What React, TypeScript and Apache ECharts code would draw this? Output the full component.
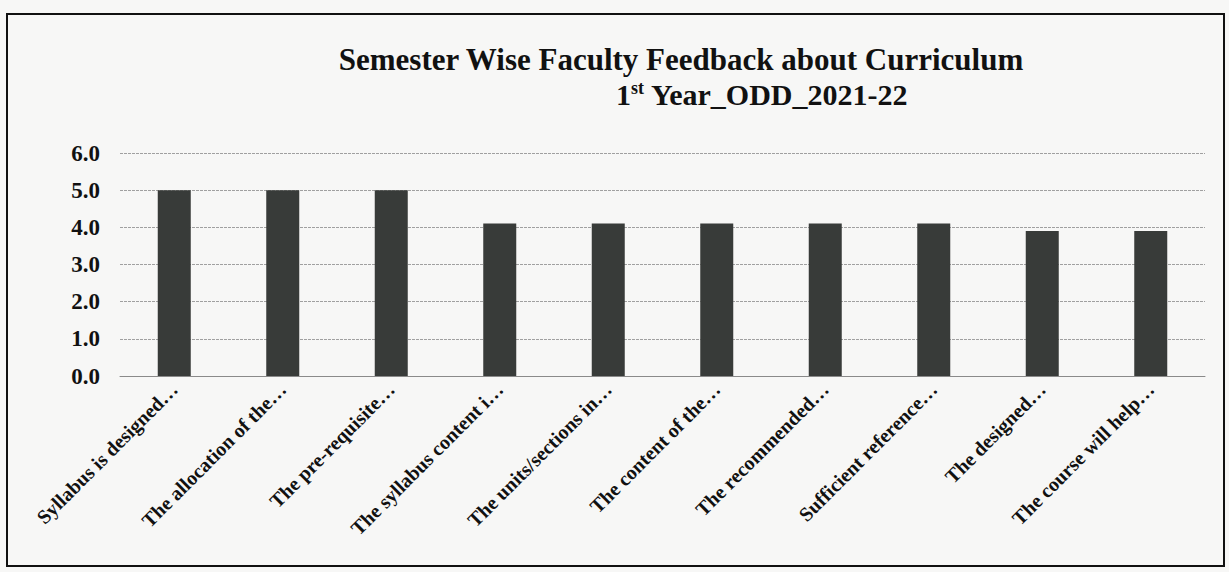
import React, { useEffect, useRef } from "react";
import * as echarts from "echarts";

const categories = [
  "Syllabus is designed…",
  "The allocation of the…",
  "The pre-requisite…",
  "The syllabus content i…",
  "The units/sections in…",
  "The content of the…",
  "The recommended…",
  "Sufficient reference…",
  "The designed…",
  "The course will help…",
];
const values = [5.0, 5.0, 5.0, 4.1, 4.1, 4.1, 4.1, 4.1, 3.9, 3.9];
const titleLine1 = "Semester Wise Faculty Feedback about Curriculum";
const titleLine2Parts = ["1", "st", " Year_ODD_2021-22"];

const FONT = "'Liberation Serif', 'Times New Roman', serif";

export default function App() {
  const ref = useRef<HTMLDivElement>(null);
  useEffect(() => {
    const chart = echarts.init(ref.current!, undefined, { renderer: "svg" });
    chart.setOption({
      animation: false,
      backgroundColor: "#f7f7f6",
      grid: { left: 120, right: 24, top: 153, bottom: 196 },
      xAxis: {
        type: "category",
        data: categories,
        axisTick: { show: false },
        axisLine: { lineStyle: { color: "#8a8a8a", width: 1 } },
        axisLabel: {
          rotate: 45,
          interval: 0,
          margin: 10,
          color: "#111",
          fontFamily: FONT,
          fontWeight: "bold",
          fontSize: 20,
        },
      },
      yAxis: {
        type: "value",
        min: 0,
        max: 6,
        interval: 1,
        axisLine: { show: false },
        axisTick: { show: false },
        splitLine: { lineStyle: { color: "#a0a0a0", width: 1, type: [3, 1] } },
        axisLabel: {
          margin: 20,
          color: "#111",
          fontFamily: FONT,
          fontWeight: "bold",
          fontSize: 23,
          formatter: (v: number) => v.toFixed(1),
        },
      },
      series: [
        {
          type: "bar",
          data: values,
          barWidth: 33,
          itemStyle: { color: "#383b39" },
        },
      ],
      graphic: [
        {
          type: "rect",
          shape: { x: 7, y: 14, width: 1217, height: 552 },
          style: { fill: "none", stroke: "#111", lineWidth: 2 },
          z: 100,
        },
        {
          type: "text",
          x: 681,
          y: 59,
          style: {
            text: titleLine1,
            fill: "#111",
            font: `bold 31px ${FONT}`,
            textAlign: "center",
            textVerticalAlign: "middle",
          },
        },
        {
          type: "text",
          x: 762,
          y: 94,
          style: {
            text: `{n|${titleLine2Parts[0]}}{s|${titleLine2Parts[1]}}{n|${titleLine2Parts[2]}}`,
            fill: "#111",
            textAlign: "center",
            textVerticalAlign: "middle",
            rich: {
              n: { font: `bold 30px ${FONT}`, fill: "#111" },
              s: { font: `bold 18px ${FONT}`, fill: "#111", verticalAlign: "top", padding: [0, 0, 12, 0] },
            },
          },
        },
      ],
    });
    return () => chart.dispose();
  }, []);
  return (
    <div
      ref={ref}
      style={{ position: "fixed", left: 0, top: 0, width: 1229, height: 572 }}
    />
  );
}
